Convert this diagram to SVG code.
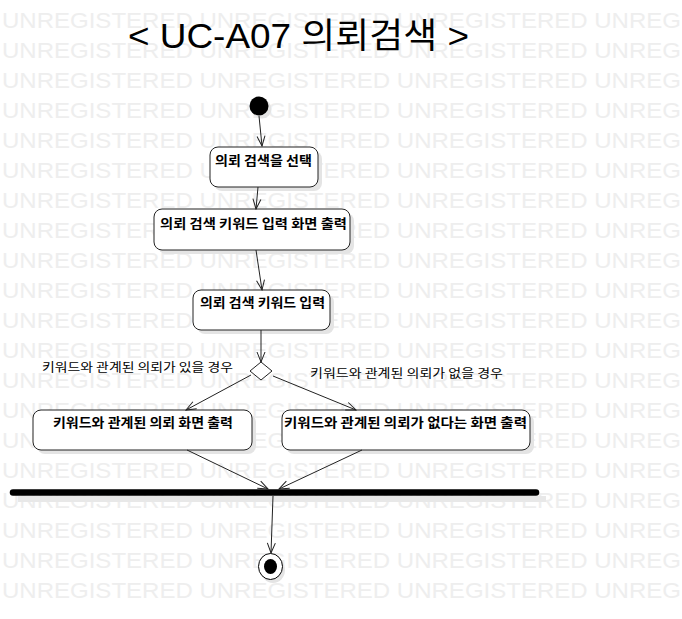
<svg xmlns="http://www.w3.org/2000/svg" width="682" height="619" viewBox="0 0 682 619">
<style>
.wm{font-family:"Liberation Sans",Arial,sans-serif;font-size:22px;fill:#eeeeee}
.box{fill:#ffffff;stroke:#222;stroke-width:1}
.shd{fill:#e4e4e4}
.bt{font-family:"Noto Sans CJK KR","Liberation Sans",sans-serif;font-size:13px;font-weight:bold;fill:#000}
.lb{font-family:"Noto Sans CJK KR","Liberation Sans",sans-serif;font-size:12px;fill:#000}
.cn{stroke:#222;stroke-width:1;fill:none;marker-end:url(#arr)}
</style>
<defs>
<marker id="arr" viewBox="-11 -5 12 10" refX="0" refY="0" markerWidth="12" markerHeight="10" markerUnits="userSpaceOnUse" orient="auto">
<path d="M-10,-4 L0,0 L-10,4" fill="none" stroke="#222" stroke-width="1"/>
</marker>
</defs>
<rect width="682" height="619" fill="#ffffff"/>
<g id="watermark">
<text class="wm" x="2" y="28" textLength="679" lengthAdjust="spacingAndGlyphs">UNREGISTERED UNREGISTERED UNREGISTERED UNREG</text>
<text class="wm" x="2" y="58" textLength="679" lengthAdjust="spacingAndGlyphs">UNREGISTERED UNREGISTERED UNREGISTERED UNREG</text>
<text class="wm" x="2" y="88" textLength="679" lengthAdjust="spacingAndGlyphs">UNREGISTERED UNREGISTERED UNREGISTERED UNREG</text>
<text class="wm" x="2" y="118" textLength="679" lengthAdjust="spacingAndGlyphs">UNREGISTERED UNREGISTERED UNREGISTERED UNREG</text>
<text class="wm" x="2" y="148" textLength="679" lengthAdjust="spacingAndGlyphs">UNREGISTERED UNREGISTERED UNREGISTERED UNREG</text>
<text class="wm" x="2" y="178" textLength="679" lengthAdjust="spacingAndGlyphs">UNREGISTERED UNREGISTERED UNREGISTERED UNREG</text>
<text class="wm" x="2" y="208" textLength="679" lengthAdjust="spacingAndGlyphs">UNREGISTERED UNREGISTERED UNREGISTERED UNREG</text>
<text class="wm" x="2" y="238" textLength="679" lengthAdjust="spacingAndGlyphs">UNREGISTERED UNREGISTERED UNREGISTERED UNREG</text>
<text class="wm" x="2" y="268" textLength="679" lengthAdjust="spacingAndGlyphs">UNREGISTERED UNREGISTERED UNREGISTERED UNREG</text>
<text class="wm" x="2" y="298" textLength="679" lengthAdjust="spacingAndGlyphs">UNREGISTERED UNREGISTERED UNREGISTERED UNREG</text>
<text class="wm" x="2" y="328" textLength="679" lengthAdjust="spacingAndGlyphs">UNREGISTERED UNREGISTERED UNREGISTERED UNREG</text>
<text class="wm" x="2" y="358" textLength="679" lengthAdjust="spacingAndGlyphs">UNREGISTERED UNREGISTERED UNREGISTERED UNREG</text>
<text class="wm" x="2" y="388" textLength="679" lengthAdjust="spacingAndGlyphs">UNREGISTERED UNREGISTERED UNREGISTERED UNREG</text>
<text class="wm" x="2" y="418" textLength="679" lengthAdjust="spacingAndGlyphs">UNREGISTERED UNREGISTERED UNREGISTERED UNREG</text>
<text class="wm" x="2" y="448" textLength="679" lengthAdjust="spacingAndGlyphs">UNREGISTERED UNREGISTERED UNREGISTERED UNREG</text>
<text class="wm" x="2" y="478" textLength="679" lengthAdjust="spacingAndGlyphs">UNREGISTERED UNREGISTERED UNREGISTERED UNREG</text>
<text class="wm" x="2" y="508" textLength="679" lengthAdjust="spacingAndGlyphs">UNREGISTERED UNREGISTERED UNREGISTERED UNREG</text>
<text class="wm" x="2" y="538" textLength="679" lengthAdjust="spacingAndGlyphs">UNREGISTERED UNREGISTERED UNREGISTERED UNREG</text>
<text class="wm" x="2" y="568" textLength="679" lengthAdjust="spacingAndGlyphs">UNREGISTERED UNREGISTERED UNREGISTERED UNREG</text>
<text class="wm" x="2" y="598" textLength="679" lengthAdjust="spacingAndGlyphs">UNREGISTERED UNREGISTERED UNREGISTERED UNREG</text>
</g>
<g id="title">
<text x="128" y="48" font-family="Liberation Sans,'Noto Sans CJK KR',sans-serif" font-size="35" fill="#000" textLength="341" lengthAdjust="spacingAndGlyphs">&lt; UC-A07 의뢰검색 &gt;</text>
</g>
<g id="start">
<circle cx="262" cy="109" r="9.5" fill="#e4e4e4"/>
<circle cx="259" cy="106" r="9.5" fill="#000"/>
</g>
<g id="n1">
<rect class="shd" x="214" y="151" width="108" height="40" rx="8"/>
<rect class="box" x="210" y="147" width="108" height="40" rx="8"/>
<text class="bt" x="215" y="165" textLength="97" lengthAdjust="spacingAndGlyphs">의뢰 검색을 선택</text>
</g>
<g id="n2">
<rect class="shd" x="158" y="213" width="196" height="41" rx="8"/>
<rect class="box" x="154" y="209" width="196" height="41" rx="8"/>
<text class="bt" x="160" y="228" textLength="187" lengthAdjust="spacingAndGlyphs">의뢰 검색 키워드 입력 화면 출력</text>
</g>
<g id="n3">
<rect class="shd" x="197" y="294" width="137" height="40" rx="8"/>
<rect class="box" x="193" y="290" width="137" height="40" rx="8"/>
<text class="bt" x="200" y="307" textLength="125" lengthAdjust="spacingAndGlyphs">의뢰 검색 키워드 입력</text>
</g>
<g id="decision">
<polygon points="261,362 272,371 261,380 250,371" fill="#fff" stroke="#222" stroke-width="1"/>
</g>
<g id="n4">
<rect class="shd" x="37" y="414" width="219" height="40" rx="8"/>
<rect class="box" x="33" y="410" width="219" height="40" rx="8"/>
<text class="bt" x="53" y="427" textLength="180" lengthAdjust="spacingAndGlyphs">키워드와 관계된 의뢰 화면 출력</text>
</g>
<g id="n5">
<rect class="shd" x="286" y="414" width="248" height="40" rx="8"/>
<rect class="box" x="282" y="410" width="248" height="40" rx="8"/>
<text class="bt" x="284" y="427" textLength="243" lengthAdjust="spacingAndGlyphs">키워드와 관계된 의뢰가 없다는 화면 출력</text>
</g>
<g id="join">
<rect x="18" y="496" width="528" height="6" fill="#e8e8e8"/>
<line x1="13" y1="492.5" x2="536" y2="492.5" stroke="#000" stroke-width="6.5" stroke-linecap="round"/>
</g>
<g id="end">
<ellipse cx="273" cy="570" rx="12" ry="13" fill="#e4e4e4"/>
<ellipse cx="270.5" cy="566.5" rx="12" ry="13" fill="#fff" stroke="#000" stroke-width="1"/>
<ellipse cx="270.5" cy="566.5" rx="6.5" ry="7.5" fill="#000"/>
</g>
<g id="connectors">
<line class="cn" x1="259" y1="116" x2="262" y2="146"/>
<line class="cn" x1="258" y1="187" x2="256" y2="209"/>
<line class="cn" x1="256" y1="250" x2="262" y2="290"/>
<line class="cn" x1="261" y1="330" x2="261" y2="362"/>
<line class="cn" x1="251" y1="375" x2="186" y2="410"/>
<line class="cn" x1="273" y1="376" x2="356" y2="410"/>
<line class="cn" x1="187" y1="450" x2="268" y2="489"/>
<line class="cn" x1="362" y1="450" x2="279" y2="489"/>
<line class="cn" x1="273" y1="496" x2="271" y2="553"/>
<text class="lb" x="42" y="372" textLength="191" lengthAdjust="spacingAndGlyphs">키워드와 관계된 의뢰가 있을 경우</text>
<text class="lb" x="310" y="378" textLength="193" lengthAdjust="spacingAndGlyphs">키워드와 관계된 의뢰가 없을 경우</text>
</g>
</svg>
